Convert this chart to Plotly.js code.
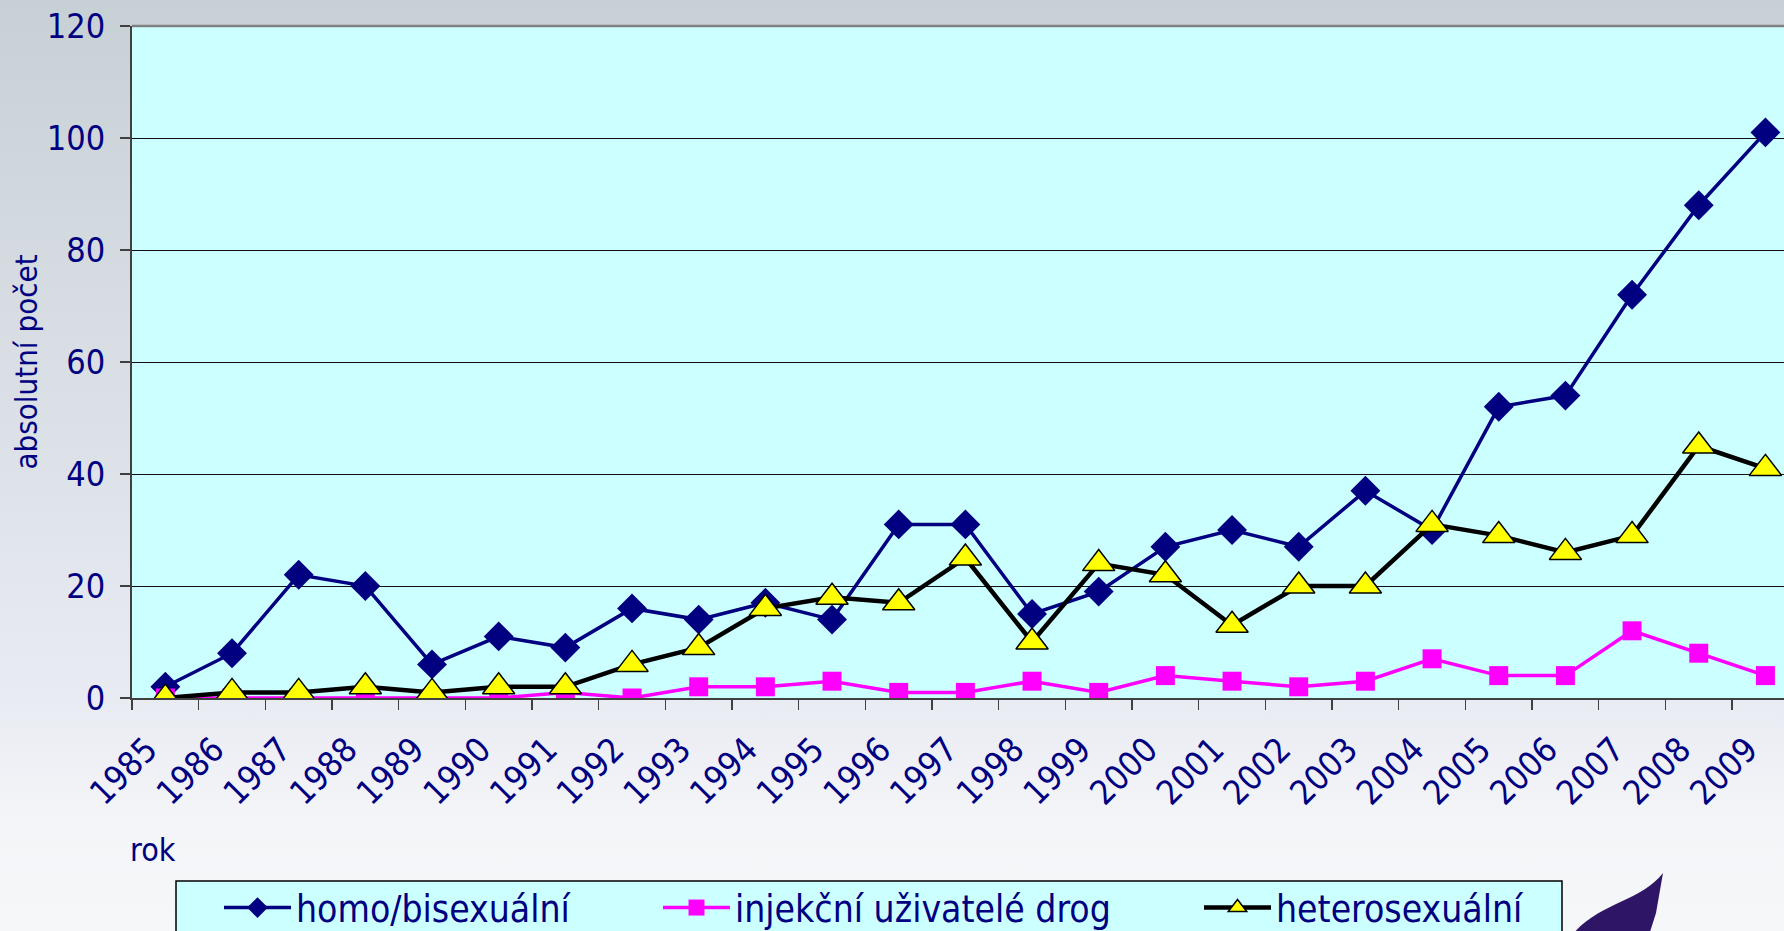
<!DOCTYPE html>
<html>
<head>
<meta charset="utf-8">
<script src="https://cdn.plot.ly/plotly-3.0.1.min.js"></script>
<style>
  html, body { margin: 0; padding: 0; }
  body {
    width: 1784px; height: 931px; overflow: hidden;
    background: linear-gradient(to bottom, #c6d0d5 0%, #d3dadf 25%, #dde2e9 50%, #e9ebf3 75%, #f3f5f8 88%, #f5f7f9 100%);
  }
  #chart { width: 1784px; height: 931px; }
</style>
</head>
<body>
<div id="chart"></div>
<script>
// ---- data ----
const years = ["1985","1986","1987","1988","1989","1990","1991","1992","1993","1994","1995","1996","1997",
               "1998","1999","2000","2001","2002","2003","2004","2005","2006","2007","2008","2009"];
const homoBisexualni = [2, 8, 22, 20, 6, 11, 9, 16, 14, 17, 14, 31, 31, 15, 19, 27, 30, 27, 37, 30, 52, 54, 72, 88, 101];
const injekcniUzivatele = [0, 0, 0, 0, 0, 0, 1, 0, 2, 2, 3, 1, 1, 3, 1, 4, 3, 2, 3, 7, 4, 4, 12, 8, 4];
const heterosexualni = [0, 1, 1, 2, 1, 2, 2, 6, 9, 16, 18, 17, 25, 10, 24, 22, 13, 20, 20, 31, 29, 26, 29, 45, 41];
const seriesNames = ["homo/bisexuální", "injekční uživatelé drog", "heterosexuální"];
const yTitle = "absolutní počet";
const xTitle = "rok";

// ---- layout geometry (pixels) ----
const W = 1784, H = 931;
const plotL = 132, plotT = 26, plotB = 698;
const catW = 66.67;
const plotW = W - plotL;
const plotH = plotB - plotT;
const px2x = p => (p - plotL) / plotW;
const py2y = p => (plotB - p) / plotH;

const FONT = "Tahoma, 'DejaVu Sans Condensed', 'DejaVu Sans', Verdana, sans-serif";
const NAVY = "#000080";

const traces = [
  {
    x: years, y: homoBisexualni, name: seriesNames[0], type: "scatter", mode: "lines+markers",
    line: { color: NAVY, width: 3.5 },
    marker: { symbol: "diamond", size: 23, color: NAVY },
    legend: "legend"
  },
  {
    x: years, y: injekcniUzivatele, name: seriesNames[1], type: "scatter", mode: "lines+markers",
    line: { color: "#ff00ff", width: 3.5 },
    marker: { symbol: "square", size: 19, color: "#ff00ff" },
    legend: "legend2"
  },
  {
    x: years, y: heterosexualni, name: seriesNames[2], type: "scatter", mode: "lines+markers",
    line: { color: "#000000", width: 4.5 },
    marker: { symbol: "triangle-up", size: 28, color: "#ffff00", line: { color: "#000000", width: 1.5 } },
    legend: "legend3"
  }
];

const legendCommon = {
  orientation: "h", xanchor: "left", yanchor: "middle",
  bgcolor: "rgba(0,0,0,0)", borderwidth: 0,
  font: { family: FONT, size: 37, color: NAVY },
  itemwidth: 67, itemclick: false, itemdoubleclick: false
};

const layout = {
  width: W, height: H,
  paper_bgcolor: "rgba(0,0,0,0)",
  plot_bgcolor: "#ccffff",
  margin: { l: plotL, r: 0, t: plotT, b: H - plotB, autoexpand: false },
  font: { family: FONT, color: NAVY },
  showlegend: true,
  xaxis: {
    type: "category",
    range: [-0.5, -0.5 + plotW / catW],
    tickson: "boundaries",
    ticks: "outside", ticklen: 10, tickwidth: 1.5, tickcolor: "#404040",
    tickangle: -45,
    tickfont: { family: FONT, size: 34, color: NAVY },
    ticklabelstandoff: 16,
    ticklabelshift: -18,
    showline: true, linecolor: "#404040", linewidth: 2,
    showgrid: false, zeroline: false, fixedrange: true
  },
  yaxis: {
    range: [0, 120], dtick: 20,
    ticks: "outside", ticklen: 10, tickwidth: 1.5, tickcolor: "#404040",
    tickfont: { family: FONT, size: 34, color: NAVY },
    ticklabelstandoff: 8,
    showline: true, linecolor: "#404040", linewidth: 2,
    showgrid: true, gridcolor: "#111111", gridwidth: 1,
    zeroline: false, fixedrange: true,
    title: { text: yTitle, font: { family: FONT, size: 31, color: NAVY }, standoff: 0 }
  },
  legend: Object.assign({}, legendCommon, { x: px2x(219), y: py2y(908) }),
  legend2: Object.assign({}, legendCommon, { x: px2x(658), y: py2y(908) }),
  legend3: Object.assign({}, legendCommon, { x: px2x(1199), y: py2y(908) }),
  annotations: [
    {
      text: xTitle, xref: "paper", yref: "paper",
      x: px2x(128), y: py2y(850), xanchor: "left", yanchor: "middle",
      showarrow: false, font: { family: FONT, size: 32, color: NAVY }
    }
  ],
  shapes: [
    // top border of plot area
    { type: "line", xref: "paper", yref: "paper", x0: 0, x1: 1, y0: 1, y1: 1,
      line: { color: "#808080", width: 2.5 } },
    // legend box
    { type: "rect", xref: "paper", yref: "paper", layer: "below",
      x0: px2x(176), x1: px2x(1562), y0: py2y(881), y1: py2y(940),
      fillcolor: "#ccffff", line: { color: "#000000", width: 1.5 } },
    // decorative logo swoosh
    { type: "path", xref: "paper", yref: "paper", layer: "above",
      path: "M " + px2x(1572) + "," + py2y(935) +
            " C " + px2x(1600) + "," + py2y(902) + " " + px2x(1640) + "," + py2y(902) + " " + px2x(1663) + "," + py2y(873) +
            " L " + px2x(1656) + "," + py2y(913) +
            " L " + px2x(1649) + "," + py2y(935) + " Z",
      fillcolor: "#2e1566", line: { width: 0 } }
  ]
};

Plotly.newPlot("chart", traces, layout, { displayModeBar: false, staticPlot: true });
</script>
</body>
</html>
